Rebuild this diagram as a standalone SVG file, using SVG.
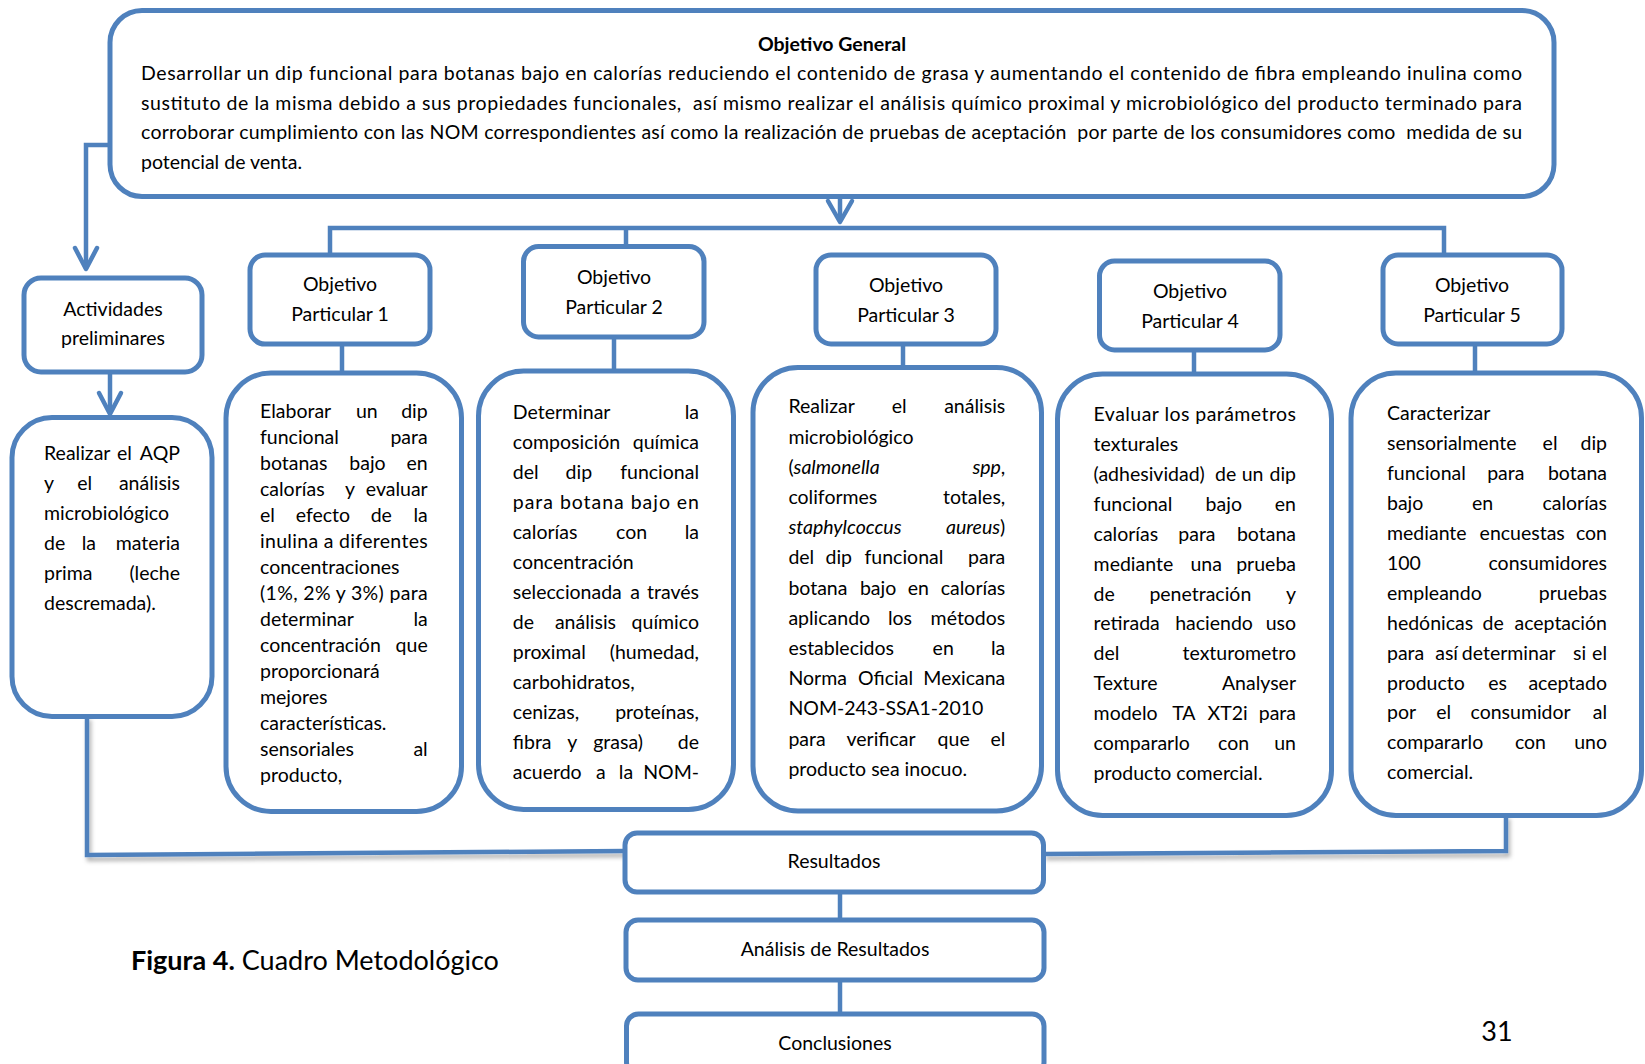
<svg xmlns="http://www.w3.org/2000/svg" width="1645" height="1064" viewBox="0 0 1645 1064">
<defs>
<style>
.b{fill:#fff;stroke:#4F81BD;stroke-width:5}
.c{fill:none;stroke:#4F81BD;stroke-width:4.5}
.a{fill:none;stroke:#4F81BD;stroke-width:4.5;stroke-linecap:round;stroke-linejoin:round}
text{font-family:Lato,'Open Sans','Liberation Sans',sans-serif;font-size:19.5px;fill:#000}
.e{text-anchor:end}
.m{text-anchor:middle}
.i{font-style:italic}
.t{font-weight:bold}
</style>
<filter id="sh" x="-5%" y="-50%" width="110%" height="300%">
<feDropShadow dx="2" dy="4" stdDeviation="2" flood-color="#000" flood-opacity="0.3"/>
</filter>
</defs>
<rect width="1645" height="1064" fill="#fff"/>

<g id="connectors">
<line class="c" x1="840" y1="198" x2="840" y2="220"/>
<polyline class="a" points="828,201 840,222 852,201"/>
<polyline class="c" points="330,256 330,228 1444,228 1444,256"/>
<line class="c" x1="626" y1="228" x2="626" y2="248"/>
<polyline class="c" points="114,145 86,145 86,267"/>
<polyline class="a" points="75,248 86,269 97,248"/>
<line class="c" x1="110" y1="373" x2="110" y2="412"/>
<polyline class="a" points="99,393 110,414 121,393"/>
<line class="c" x1="342" y1="343" x2="342" y2="374"/>
<line class="c" x1="614" y1="336" x2="614" y2="372"/>
<line class="c" x1="903" y1="343" x2="903" y2="368"/>
<line class="c" x1="1194" y1="349" x2="1194" y2="375"/>
<line class="c" x1="1475" y1="343" x2="1475" y2="374"/>
<polyline class="c" filter="url(#sh)" points="87,716 87,855 626,851"/>
<polyline class="c" filter="url(#sh)" points="1506,815 1506,851 1044,854"/>
<line class="c" x1="840" y1="888" x2="840" y2="920"/>
<line class="c" x1="840" y1="978" x2="840" y2="1014"/>
</g>

<g id="objetivo-general">
<rect class="b" x="110" y="10.5" width="1444" height="186" rx="32"/>
<text x="832" y="51" class="m t">Objetivo General</text>
<text x="141" y="80" textLength="1381" lengthAdjust="spacing">Desarrollar un dip funcional para botanas bajo en calorías reduciendo el contenido de grasa y aumentando el contenido de fibra empleando inulina como</text>
<text x="141" y="109.5" textLength="1381" lengthAdjust="spacing">sustituto de la misma debido a sus propiedades funcionales,&#160; así mismo realizar el análisis químico proximal y microbiológico del producto terminado para</text>
<text x="141" y="139" textLength="1381" lengthAdjust="spacing">corroborar cumplimiento con las NOM correspondientes así como la realización de pruebas de aceptación&#160; por parte de los consumidores como&#160; medida de su</text>
<text x="141" y="168.5">potencial de venta.</text>
</g>

<g id="actividades">
<rect class="b" x="24" y="278" width="178" height="94" rx="17"/>
<text x="113" y="316" class="m">Actividades</text>
<text x="113" y="345" class="m">preliminares</text>
</g>

<g id="realizar-aqp">
<rect class="b" x="12" y="417.5" width="200" height="299" rx="40"/>
<text x="44" y="460">Realizar</text><text x="117" y="460">el</text><text x="180" y="460" class="e">AQP</text>
<text x="44" y="490">y</text><text x="77.3" y="490">el</text><text x="180" y="490" class="e">análisis</text>
<text x="44" y="520">microbiológico</text>
<text x="44" y="550">de</text><text x="81.7" y="550">la</text><text x="180" y="550" class="e">materia</text>
<text x="44" y="580">prima</text><text x="180" y="580" class="e">(leche</text>
<text x="44" y="610">descremada).</text>
</g>

<g id="op1">
<rect class="b" x="250" y="255" width="180" height="89" rx="15"/>
<text x="340" y="291" class="m">Objetivo</text>
<text x="340" y="321" class="m">Particular 1</text>
</g>
<g id="op2">
<rect class="b" x="523.5" y="246.5" width="180.5" height="90.5" rx="15"/>
<text x="614" y="283.5" class="m">Objetivo</text>
<text x="614" y="314" class="m">Particular 2</text>
</g>
<g id="op3">
<rect class="b" x="816" y="255" width="180" height="89" rx="15"/>
<text x="906" y="291.5" class="m">Objetivo</text>
<text x="906" y="322" class="m">Particular 3</text>
</g>
<g id="op4">
<rect class="b" x="1099.5" y="261" width="180.5" height="89" rx="15"/>
<text x="1190" y="298" class="m">Objetivo</text>
<text x="1190" y="328" class="m">Particular 4</text>
</g>
<g id="op5">
<rect class="b" x="1383" y="255" width="179" height="89" rx="15"/>
<text x="1472" y="291.5" class="m">Objetivo</text>
<text x="1472" y="321.5" class="m">Particular 5</text>
</g>

<g id="desc1">
<rect class="b" x="226" y="373" width="235.5" height="438.5" rx="45"/>
<text x="260" y="418">Elaborar</text><text x="356" y="418">un</text><text x="427.7" y="418" class="e">dip</text>
<text x="260" y="444">funcional</text><text x="427.7" y="444" class="e">para</text>
<text x="260" y="470">botanas</text><text x="349.3" y="470">bajo</text><text x="427.7" y="470" class="e">en</text>
<text x="260" y="496">calorías</text><text x="345" y="496">y</text><text x="427.7" y="496" class="e">evaluar</text>
<text x="260" y="522">el</text><text x="295.7" y="522">efecto</text><text x="370.7" y="522">de</text><text x="427.7" y="522" class="e">la</text>
<text x="260" y="548" textLength="167.7" lengthAdjust="spacing">inulina a diferentes</text>
<text x="260" y="574">concentraciones</text>
<text x="260" y="600" textLength="167.7" lengthAdjust="spacing">(1%, 2% y 3%) para</text>
<text x="260" y="626">determinar</text><text x="427.7" y="626" class="e">la</text>
<text x="260" y="652">concentración</text><text x="427.7" y="652" class="e">que</text>
<text x="260" y="678">proporcionará</text>
<text x="260" y="704">mejores</text>
<text x="260" y="730">características.</text>
<text x="260" y="756">sensoriales</text><text x="427.7" y="756" class="e">al</text>
<text x="260" y="782">producto,</text>
</g>

<g id="desc2">
<rect class="b" x="478.5" y="371" width="255" height="438.5" rx="45"/>
<text x="512.8" y="419">Determinar</text><text x="699" y="419" class="e">la</text>
<text x="512.8" y="449">composición</text><text x="699" y="449" class="e">química</text>
<text x="512.8" y="479">del</text><text x="565.6" y="479">dip</text><text x="699" y="479" class="e">funcional</text>
<text x="512.8" y="509" textLength="186.2" lengthAdjust="spacing">para botana bajo en</text>
<text x="512.8" y="539">calorías</text><text x="616.1" y="539">con</text><text x="699" y="539" class="e">la</text>
<text x="512.8" y="569">concentración</text>
<text x="512.8" y="599">seleccionada</text><text x="630.3" y="599">a</text><text x="699" y="599" class="e">través</text>
<text x="512.8" y="629">de</text><text x="554.9" y="629">análisis</text><text x="699" y="629" class="e">químico</text>
<text x="512.8" y="659">proximal</text><text x="699" y="659" class="e">(humedad,</text>
<text x="512.8" y="689">carbohidratos,</text>
<text x="512.8" y="718.5">cenizas,</text><text x="699" y="718.5" class="e">proteínas,</text>
<text x="512.8" y="748.5">fibra</text><text x="567.2" y="748.5">y</text><text x="593.2" y="748.5">grasa)</text><text x="699" y="748.5" class="e">de</text>
<text x="512.8" y="778.5">acuerdo</text><text x="595.9" y="778.5">a</text><text x="618.8" y="778.5">la</text><text x="699" y="778.5" class="e">NOM-</text>
</g>

<g id="desc3">
<rect class="b" x="753" y="367.5" width="288.5" height="443.5" rx="45"/>
<text x="788.4" y="413.4">Realizar</text><text x="891.7" y="413.4">el</text><text x="1005.3" y="413.4" class="e">análisis</text>
<text x="788.4" y="443.6">microbiológico</text>
<text x="788.4" y="473.8">(<tspan class="i">salmonella</tspan></text><text x="1005.3" y="473.8" class="e"><tspan class="i">spp</tspan>,</text>
<text x="788.4" y="504">coliformes</text><text x="1005.3" y="504" class="e">totales,</text>
<text x="788.4" y="534.2" class="i">staphylcoccus</text><text x="1005.3" y="534.2" class="e"><tspan class="i">aureus</tspan>)</text>
<text x="788.4" y="564.4">del</text><text x="825.5" y="564.4">dip</text><text x="864.5" y="564.4">funcional</text><text x="1005.3" y="564.4" class="e">para</text>
<text x="788.4" y="594.6">botana</text><text x="859.9" y="594.6">bajo</text><text x="907.8" y="594.6">en</text><text x="1005.3" y="594.6" class="e">calorías</text>
<text x="788.4" y="624.8">aplicando</text><text x="887.9" y="624.8">los</text><text x="1005.3" y="624.8" class="e">métodos</text>
<text x="788.4" y="655">establecidos</text><text x="932.6" y="655">en</text><text x="1005.3" y="655" class="e">la</text>
<text x="788.4" y="685.2">Norma</text><text x="858" y="685.2">Oficial</text><text x="1005.3" y="685.2" class="e">Mexicana</text>
<text x="788.4" y="715.4">NOM-243-SSA1-2010</text>
<text x="788.4" y="745.6">para</text><text x="846.5" y="745.6">verificar</text><text x="937.6" y="745.6">que</text><text x="1005.3" y="745.6" class="e">el</text>
<text x="788.4" y="775.8">producto sea inocuo.</text>
</g>

<g id="desc4">
<rect class="b" x="1057.5" y="374" width="274" height="441.5" rx="45"/>
<text x="1093.6" y="421" textLength="202.4" lengthAdjust="spacing">Evaluar los parámetros</text>
<text x="1093.6" y="450.9">texturales</text>
<text x="1093.6" y="480.8">(adhesividad)</text><text x="1215.1" y="480.8">de</text><text x="1241.7" y="480.8">un</text><text x="1296" y="480.8" class="e">dip</text>
<text x="1093.6" y="510.8">funcional</text><text x="1205.6" y="510.8">bajo</text><text x="1296" y="510.8" class="e">en</text>
<text x="1093.6" y="540.7">calorías</text><text x="1178.3" y="540.7">para</text><text x="1296" y="540.7" class="e">botana</text>
<text x="1093.6" y="570.6">mediante</text><text x="1190.4" y="570.6">una</text><text x="1296" y="570.6" class="e">prueba</text>
<text x="1093.6" y="600.5">de</text><text x="1149.4" y="600.5">penetración</text><text x="1296" y="600.5" class="e">y</text>
<text x="1093.6" y="630.4">retirada</text><text x="1175.2" y="630.4">haciendo</text><text x="1296" y="630.4" class="e">uso</text>
<text x="1093.6" y="660.4">del</text><text x="1296" y="660.4" class="e">texturometro</text>
<text x="1093.6" y="690.3">Texture</text><text x="1296" y="690.3" class="e">Analyser</text>
<text x="1093.6" y="720.2">modelo</text><text x="1172.2" y="720.2">TA</text><text x="1207.5" y="720.2">XT2i</text><text x="1296" y="720.2" class="e">para</text>
<text x="1093.6" y="750.1">compararlo</text><text x="1218.1" y="750.1">con</text><text x="1296" y="750.1" class="e">un</text>
<text x="1093.6" y="780">producto comercial.</text>
</g>

<g id="desc5">
<rect class="b" x="1351" y="373" width="290.5" height="442.5" rx="45"/>
<text x="1387" y="420">Caracterizar</text>
<text x="1387" y="449.9">sensorialmente</text><text x="1542.6" y="449.9">el</text><text x="1607" y="449.9" class="e">dip</text>
<text x="1387" y="479.9">funcional</text><text x="1487.2" y="479.9">para</text><text x="1607" y="479.9" class="e">botana</text>
<text x="1387" y="509.8">bajo</text><text x="1472" y="509.8">en</text><text x="1607" y="509.8" class="e">calorías</text>
<text x="1387" y="539.8">mediante</text><text x="1479.6" y="539.8">encuestas</text><text x="1607" y="539.8" class="e">con</text>
<text x="1387" y="569.7">100</text><text x="1607" y="569.7" class="e">consumidores</text>
<text x="1387" y="599.6">empleando</text><text x="1607" y="599.6" class="e">pruebas</text>
<text x="1387" y="629.6">hedónicas</text><text x="1482.6" y="629.6">de</text><text x="1607" y="629.6" class="e">aceptación</text>
<text x="1387" y="659.5">para</text><text x="1435.2" y="659.5">así</text><text x="1461.8" y="659.5">determinar</text><text x="1573" y="659.5">si</text><text x="1607" y="659.5" class="e">el</text>
<text x="1387" y="689.5">producto</text><text x="1488.3" y="689.5">es</text><text x="1607" y="689.5" class="e">aceptado</text>
<text x="1387" y="719.4">por</text><text x="1436.3" y="719.4">el</text><text x="1470.5" y="719.4">consumidor</text><text x="1607" y="719.4" class="e">al</text>
<text x="1387" y="749.3">compararlo</text><text x="1514.9" y="749.3">con</text><text x="1607" y="749.3" class="e">uno</text>
<text x="1387" y="779.3">comercial.</text>
</g>

<g id="resultados">
<rect class="b" x="625" y="833" width="418.5" height="59" rx="12"/>
<text x="834" y="868" class="m">Resultados</text>
</g>
<g id="analisis">
<rect class="b" x="626" y="920" width="418" height="60" rx="12"/>
<text x="835" y="956" class="m">Análisis de Resultados</text>
</g>
<g id="conclusiones">
<rect class="b" x="626.5" y="1014" width="417.5" height="60" rx="12"/>
<text x="835" y="1050" class="m">Conclusiones</text>
</g>

<g id="caption">
<text x="131" y="970" style="font-size:27px"><tspan class="t">Figura 4.</tspan> Cuadro Metodológico</text>
<text x="1497" y="1041" class="m" style="font-size:27px">31</text>
</g>
</svg>
